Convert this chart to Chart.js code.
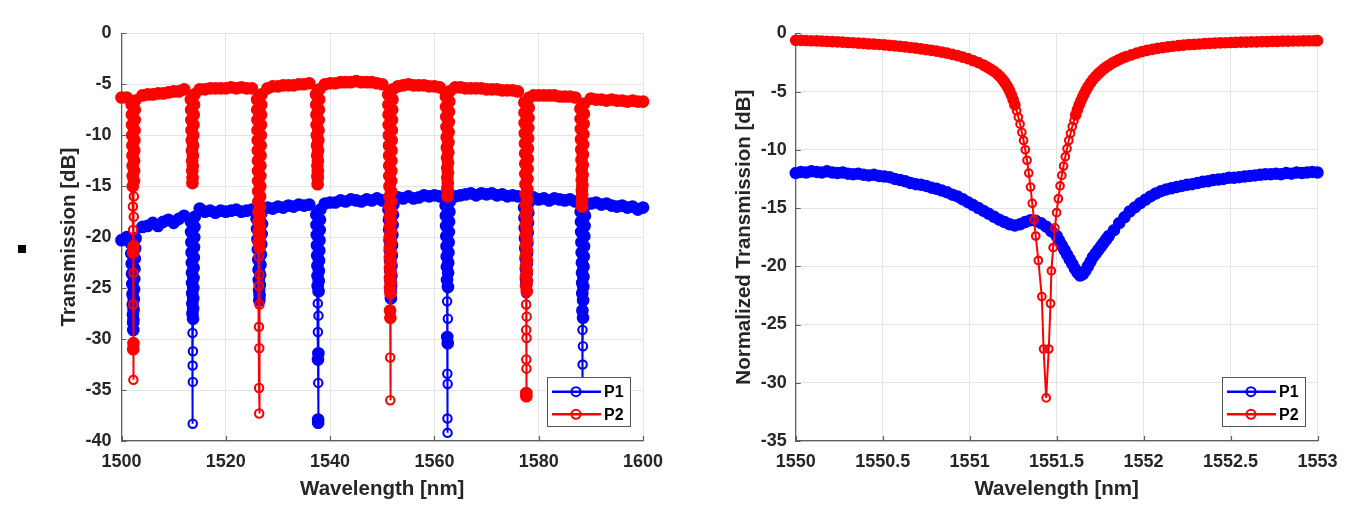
<!DOCTYPE html>
<html><head><meta charset="utf-8">
<script src="https://cdn.jsdelivr.net/npm/chart.js@4.4.1/dist/chart.umd.min.js"></script>
<style>
html,body{margin:0;padding:0;background:#fff;width:1366px;height:508px;overflow:hidden}
.panel{position:absolute;top:0;width:683px;height:508px}
#mark{position:absolute;left:18px;top:245px;width:8px;height:8px;background:#000}
</style></head><body>
<div class="panel" style="left:0"><canvas id="left" width="683" height="508"></canvas></div>
<div class="panel" style="left:683px"><canvas id="right" width="683" height="508"></canvas></div>
<div id="mark"></div>
<script>
// ---------- LEFT PANEL: broadband spectrum ----------
const leftGrid = [1500,1501,1502,1503,1504,1505,1506,1507,1508,1509,
 1510,1511,1512,1513,1514,1515,1516,1517,1518,1519,
 1520,1521,1522,1523,1524,1525,1526,1527,1528,1529,
 1530,1531,1532,1533,1534,1535,1536,1537,1538,1539,
 1540,1541,1542,1543,1544,1545,1546,1547,1548,1549,
 1550,1551,1552,1553,1554,1555,1556,1557,1558,1559,
 1560,1561,1562,1563,1564,1565,1566,1567,1568,1569,
 1570,1571,1572,1573,1574,1575,1576,1577,1578,1579,
 1580,1581,1582,1583,1584,1585,1586,1587,1588,1589,
 1590,1591,1592,1593,1594,1595,1596,1597,1598,1599,
 1600];
const leftP1Base = [-20.3,-20.0,-19.8,-19.5,-19.0,-18.9,-18.6,-18.9,-18.5,-18.3,
 -18.6,-18.2,-17.9,-17.7,-17.3,-17.2,-17.5,-17.4,-17.6,-17.4,
 -17.5,-17.4,-17.3,-17.5,-17.4,-17.3,-17.3,-17.2,-17.1,-17.2,
 -17.0,-17.1,-16.9,-17.0,-16.8,-16.9,-16.8,-16.7,-16.8,-16.7,
 -16.6,-16.6,-16.4,-16.5,-16.3,-16.4,-16.5,-16.3,-16.4,-16.2,
 -16.4,-16.3,-16.3,-16.1,-16.2,-16.0,-16.2,-16.1,-15.9,-16.0,
 -15.9,-16.0,-15.9,-15.8,-16.0,-15.9,-15.8,-15.7,-15.9,-15.7,
 -15.8,-15.7,-15.9,-15.8,-16.0,-15.9,-16.0,-16.1,-16.2,-16.1,
 -16.3,-16.2,-16.4,-16.2,-16.3,-16.4,-16.3,-16.5,-16.5,-16.6,
 -16.7,-16.6,-16.8,-16.7,-16.9,-17.0,-16.9,-17.1,-17.0,-17.3,
 -17.1];
const leftP2Base = [-6.3,-6.3,-6.2,-6.2,-6.1,-6.0,-6.0,-5.9,-5.9,-5.8,
 -5.7,-5.7,-5.5,-5.5,-5.6,-5.5,-5.5,-5.4,-5.4,-5.4,
 -5.4,-5.3,-5.4,-5.3,-5.4,-5.4,-5.5,-5.6,-5.4,-5.2,
 -5.2,-5.1,-5.1,-5.1,-5.0,-5.0,-4.9,-5.0,-5.1,-5.0,
 -4.9,-4.9,-4.8,-4.8,-4.8,-4.7,-4.8,-4.8,-4.8,-4.9,
 -5.0,-5.1,-5.5,-5.2,-5.1,-5.0,-5.1,-5.1,-5.1,-5.2,
 -5.2,-5.3,-5.3,-5.4,-5.3,-5.3,-5.4,-5.4,-5.4,-5.4,
 -5.5,-5.5,-5.5,-5.6,-5.6,-5.6,-5.7,-5.8,-6.0,-6.1,
 -6.1,-6.1,-6.1,-6.1,-6.2,-6.2,-6.2,-6.3,-6.4,-6.4,
 -6.4,-6.5,-6.5,-6.6,-6.5,-6.6,-6.6,-6.7,-6.6,-6.7,
 -6.7];
// resonance dips of P1 (blue): sample points
const leftP1DipX = [
 1501.8,1501.88,1501.95,1502.01,1502.07,1502.12,1502.16,1502.2,1502.23,1502.26,1502.29,1502.32,1502.36,1502.4,1502.44,1502.49,1502.55,1502.62,1502.7,
 1513.3,1513.35,1513.4,1513.44,1513.48,1513.51,1513.54,1513.56,1513.58,1513.6,1513.62,1513.64,1513.66,1513.68,1513.7,1513.72,1513.74,1513.76,1513.78,1513.81,1513.84,1513.87,1513.9,1513.94,1513.99,1514.05,
 1525.9,1526.0,1526.08,1526.15,1526.22,1526.28,1526.33,1526.38,1526.43,1526.48,1526.53,1526.59,1526.65,1526.72,1526.79,1526.86,1526.93,1527.0,
 1537.35,1537.4,1537.45,1537.49,1537.53,1537.56,1537.59,1537.62,1537.64,1537.66,1537.68,1537.7,1537.71,1537.73,1537.75,1537.77,1537.79,1537.82,1537.85,1537.88,1537.92,1537.96,1538.0,1538.05,1538.12,
 1551.2,1551.28,1551.34,1551.4,1551.45,1551.5,1551.54,1551.58,1551.62,1551.66,1551.7,1551.74,1551.78,1551.83,1551.88,1551.93,1551.99,1552.06,1552.14,
 1562.15,1562.2,1562.25,1562.29,1562.33,1562.36,1562.39,1562.42,1562.44,1562.46,1562.48,1562.5,1562.52,1562.54,1562.56,1562.58,1562.6,1562.63,1562.66,1562.69,1562.73,1562.77,1562.82,1562.88,1562.95,
 1577.2,1577.27,1577.33,1577.38,1577.43,1577.48,1577.52,1577.56,1577.6,1577.64,1577.68,1577.72,1577.77,1577.82,1577.88,1577.94,1578.01,1578.09,
 1588.05,1588.1,1588.15,1588.2,1588.24,1588.28,1588.31,1588.34,1588.36,1588.38,1588.4,1588.42,1588.44,1588.46,1588.48,1588.5,1588.52,1588.55,1588.58,1588.61,1588.65,1588.69,1588.74,1588.8,1588.87,1588.95];
const leftP1DipY = [
 -20.6,-21.6,-22.6,-23.6,-24.6,-25.6,-26.6,-27.6,-28.4,-29.1,-28.1,-27.1,-26.1,-25.1,-24.1,-23.1,-22.1,-21.1,-20.1,
 -18.5,-19.5,-20.5,-21.5,-22.5,-23.5,-24.5,-25.5,-26.5,-27.5,-29.4,-32.6,-38.3,-34.2,-31.2,-28.0,-27.0,-26.0,-25.0,-24.0,-23.0,-22.0,-21.0,-20.0,-19.0,-18.0,
 -18.2,-19.2,-20.2,-21.2,-22.2,-23.2,-24.2,-25.2,-26.2,-25.7,-24.7,-23.7,-22.7,-21.7,-20.7,-19.7,-18.7,-17.7,
 -17.8,-18.8,-19.8,-20.8,-21.8,-22.8,-23.8,-24.8,-26.5,-29.3,-32.0,-37.9,-38.2,-34.3,-31.4,-27.7,-25.3,-24.3,-23.3,-22.3,-21.3,-20.3,-19.3,-18.3,-17.3,
 -17.3,-18.3,-19.3,-20.3,-21.3,-22.3,-23.3,-24.3,-25.3,-26.0,-24.8,-23.8,-22.8,-21.8,-20.8,-19.8,-18.8,-17.8,-16.8,
 -16.9,-17.9,-18.9,-19.9,-20.9,-21.9,-22.9,-24.2,-26.3,-29.8,-33.4,-37.8,-39.2,-34.4,-30.4,-28.0,-24.9,-23.5,-22.5,-21.5,-20.5,-19.5,-18.5,-17.5,-16.5,
 -17.1,-18.1,-19.1,-20.1,-21.1,-22.1,-23.1,-24.1,-25.5,-24.6,-23.6,-22.6,-21.6,-20.6,-19.6,-18.6,-17.6,-16.6,
 -17.5,-18.5,-19.5,-20.5,-21.5,-22.5,-23.5,-24.5,-25.5,-27.2,-29.1,-32.5,-36.0,-34.5,-30.7,-27.9,-26.2,-24.9,-23.9,-22.9,-21.9,-20.9,-19.9,-18.9,-17.9,-16.9];
// resonance dips of P2 (red)
const leftP2DipX = [
 1501.95,1501.99,1502.03,1502.06,1502.09,1502.11,1502.13,1502.15,1502.17,1502.19,1502.21,1502.22,1502.24,1502.25,1502.27,1502.29,1502.31,1502.33,1502.35,1502.37,1502.39,1502.41,1502.43,1502.45,1502.47,1502.5,1502.53,1502.56,1502.6,
 1513.3,1513.35,1513.4,1513.44,1513.48,1513.51,1513.54,1513.57,1513.6,1513.63,1513.66,1513.69,1513.72,1513.76,1513.8,1513.85,1513.91,1514.0,
 1526.0,1526.03,1526.06,1526.09,1526.12,1526.14,1526.16,1526.18,1526.2,1526.22,1526.24,1526.26,1526.28,1526.3,1526.31,1526.32,1526.34,1526.36,1526.38,1526.4,1526.42,1526.44,1526.46,1526.48,1526.5,1526.52,1526.54,1526.56,1526.58,1526.6,1526.62,1526.64,1526.66,1526.68,1526.7,1526.73,1526.76,1526.8,1526.86,
 1537.3,1537.34,1537.38,1537.42,1537.46,1537.49,1537.52,1537.55,1537.58,1537.61,1537.63,1537.65,1537.67,1537.7,1537.73,1537.77,1537.81,1537.85,1537.9,1537.96,
 1551.15,1551.18,1551.21,1551.24,1551.27,1551.3,1551.32,1551.34,1551.36,1551.38,1551.4,1551.41,1551.42,1551.43,1551.44,1551.45,1551.46,1551.47,1551.48,1551.49,1551.5,1551.52,1551.54,1551.56,1551.58,1551.6,1551.61,1551.62,1551.63,1551.64,1551.65,1551.66,1551.67,1551.68,1551.7,1551.72,1551.74,1551.76,1551.78,1551.8,1551.83,1551.86,1551.9,1551.95,1552.02,
 1562.2,1562.24,1562.28,1562.32,1562.36,1562.39,1562.42,1562.45,1562.47,1562.49,1562.52,1562.55,1562.57,1562.6,1562.63,1562.66,1562.69,1562.72,1562.76,1562.8,1562.85,1562.91,
 1577.25,1577.28,1577.31,1577.34,1577.37,1577.4,1577.42,1577.44,1577.46,1577.48,1577.5,1577.51,1577.52,1577.53,1577.54,1577.55,1577.56,1577.57,1577.58,1577.59,1577.6,1577.61,1577.62,1577.63,1577.65,1577.67,1577.69,1577.71,1577.72,1577.73,1577.74,1577.75,1577.76,1577.77,1577.78,1577.8,1577.82,1577.84,1577.86,1577.88,1577.91,1577.94,1577.97,1578.0,1578.04,1578.09,1578.16,
 1588.0,1588.04,1588.08,1588.12,1588.16,1588.2,1588.23,1588.26,1588.28,1588.3,1588.32,1588.35,1588.38,1588.41,1588.44,1588.48,1588.52,1588.56,1588.61,1588.67,1588.74];
const leftP2DipY = [
 -7.0,-8.0,-9.0,-10.0,-11.0,-12.0,-13.0,-14.0,-15.0,-17.0,-19.3,-21.5,-26.6,-31.0,-34.0,-30.4,-23.5,-20.9,-18.0,-16.0,-14.5,-13.5,-12.5,-11.5,-10.5,-9.5,-8.5,-7.5,-6.6,
 -6.5,-7.5,-8.5,-9.5,-10.5,-11.5,-12.5,-13.5,-14.7,-14.2,-13.0,-12.0,-11.0,-10.0,-9.0,-8.0,-7.0,-6.0,
 -6.5,-7.5,-8.5,-9.5,-10.5,-11.5,-12.5,-13.5,-14.5,-15.5,-16.5,-17.5,-18.5,-19.5,-20.5,-21.9,-24.8,-28.8,-34.8,-37.3,-30.9,-26.6,-23.7,-21.0,-20.0,-19.0,-18.0,-17.0,-16.0,-15.0,-14.0,-13.0,-12.0,-11.0,-10.0,-9.0,-8.0,-7.0,-6.0,
 -6.0,-7.0,-8.0,-9.0,-10.0,-11.0,-12.0,-13.0,-14.0,-14.8,-14.2,-13.5,-12.5,-11.5,-10.5,-9.5,-8.5,-7.5,-6.5,-5.5,
 -6.0,-7.0,-8.0,-9.0,-10.0,-11.0,-12.0,-13.0,-14.0,-15.0,-16.0,-17.0,-18.0,-19.0,-20.0,-21.0,-22.0,-23.0,-24.0,-25.0,-27.2,-31.8,-36.0,-27.9,-25.5,-24.5,-23.5,-22.5,-21.5,-20.5,-19.5,-18.5,-17.5,-16.5,-15.5,-14.5,-13.5,-12.5,-11.5,-10.5,-9.5,-8.5,-7.5,-6.5,-5.5,
 -6.2,-7.2,-8.2,-9.2,-10.2,-11.2,-12.2,-13.2,-14.2,-15.2,-16.0,-15.4,-14.7,-13.7,-12.7,-11.7,-10.7,-9.7,-8.7,-7.7,-6.7,-5.7,
 -6.8,-7.8,-8.8,-9.8,-10.8,-11.8,-12.8,-13.8,-14.8,-15.8,-16.8,-17.8,-18.8,-19.8,-20.8,-21.8,-22.8,-23.8,-24.8,-26.6,-29.1,-32.0,-35.3,-35.6,-32.9,-29.9,-27.8,-25.3,-24.3,-23.3,-22.3,-21.3,-20.3,-19.3,-18.3,-17.3,-16.3,-15.3,-14.3,-13.3,-12.3,-11.3,-10.3,-9.3,-8.3,-7.3,-6.3,
 -7.4,-8.4,-9.4,-10.4,-11.4,-12.4,-13.4,-14.4,-15.4,-16.4,-17.0,-15.9,-14.9,-13.9,-12.9,-11.9,-10.9,-9.9,-8.9,-7.9,-6.9];
const leftXTicks = [1500,1520,1540,1560,1580,1600];
const leftYTicks = [-40,-35,-30,-25,-20,-15,-10,-5,0];

// ---------- RIGHT PANEL: zoom on one resonance ----------
const narrowP1X = [1550.00,1550.03,1550.06,1550.09,1550.12,1550.15,1550.18,1550.21,1550.24,1550.27,
 1550.30,1550.33,1550.36,1550.39,1550.42,1550.45,1550.48,1550.51,1550.54,1550.57,
 1550.60,1550.63,1550.66,1550.69,1550.72,1550.75,1550.78,1550.81,1550.84,1550.87,
 1550.90,1550.93,1550.96,1550.99,1551.02,1551.05,1551.08,1551.11,1551.14,1551.17,
 1551.20,1551.23,1551.26,1551.29,1551.32,1551.35,1551.38,1551.41,1551.44,1551.47,
 1551.50,
 1551.515,1551.53,1551.545,1551.56,1551.575,1551.59,1551.605,1551.62,1551.635,1551.65,
 1551.665,1551.68,1551.695,1551.71,1551.725,1551.74,1551.755,1551.77,1551.785,1551.80,
 1551.83,1551.86,1551.89,1551.92,1551.95,1551.98,1552.01,1552.04,1552.07,1552.10,
 1552.13,1552.16,1552.19,1552.22,1552.25,1552.28,1552.31,1552.34,1552.37,1552.40,
 1552.43,1552.46,1552.49,1552.52,1552.55,1552.58,1552.61,1552.64,1552.67,1552.70,
 1552.73,1552.76,1552.79,1552.82,1552.85,1552.88,1552.91,1552.94,1552.97,1553.00];
const narrowP1Y = [-12.0,-11.9,-11.95,-11.85,-11.9,-11.95,-11.85,-11.95,-12.0,-11.95,
 -12.05,-12.1,-12.05,-12.15,-12.2,-12.15,-12.25,-12.3,-12.35,-12.5,
 -12.6,-12.7,-12.85,-12.95,-13.0,-13.1,-13.25,-13.35,-13.5,-13.65,
 -13.85,-14.0,-14.25,-14.5,-14.75,-15.0,-15.25,-15.5,-15.75,-16.0,
 -16.2,-16.4,-16.5,-16.4,-16.2,-16.05,-16.1,-16.3,-16.6,-17.0,
 -17.4,
 -17.8,-18.2,-18.6,-19.0,-19.4,-19.8,-20.2,-20.55,-20.8,-20.7,
 -20.4,-20.0,-19.6,-19.2,-18.9,-18.6,-18.3,-18.0,-17.7,-17.4,
 -16.9,-16.3,-15.8,-15.3,-14.95,-14.6,-14.3,-14.0,-13.75,-13.55,
 -13.4,-13.3,-13.2,-13.1,-13.0,-12.95,-12.85,-12.75,-12.7,-12.6,
 -12.55,-12.5,-12.4,-12.4,-12.35,-12.3,-12.25,-12.2,-12.15,-12.1,
 -12.1,-12.05,-12.1,-12.0,-12.05,-11.95,-12.0,-11.95,-11.9,-11.95];
const narrowP2X = [1550.00,1550.03,1550.06,1550.09,1550.12,1550.15,1550.18,1550.21,1550.24,1550.27,
 1550.30,1550.33,1550.36,1550.39,1550.42,1550.45,1550.48,1550.51,1550.54,1550.57,
 1550.60,1550.63,1550.66,1550.69,1550.72,1550.75,1550.78,1550.81,1550.84,1550.87,
 1550.90,1550.93,1550.96,1550.99,1551.02,1551.05,1551.08,
 1551.10,1551.12,1551.14,1551.16,1551.175,1551.19,1551.20,1551.21,1551.22,1551.23,
 1551.24,1551.25,1551.26,1551.27,1551.28,1551.29,1551.30,1551.31,1551.32,1551.33,1551.34,1551.35,1551.36,1551.37,1551.38,1551.395,1551.415,1551.425,1551.44,1551.455,1551.465,1551.47,1551.48,
 1551.49,1551.50,1551.51,1551.52,1551.53,1551.54,1551.55,1551.56,1551.57,1551.58,1551.59,1551.60,
 1551.61,1551.62,1551.63,1551.64,1551.65,1551.66,1551.67,1551.68,1551.695,1551.71,1551.725,1551.74,1551.755,1551.77,1551.785,1551.80,
 1551.82,1551.84,1551.86,1551.88,1551.90,
 1551.93,1551.96,1551.99,1552.02,1552.05,1552.08,1552.11,1552.14,1552.17,1552.20,
 1552.23,1552.26,1552.29,1552.32,1552.35,1552.38,1552.41,1552.44,1552.47,1552.50,
 1552.53,1552.56,1552.59,1552.62,1552.65,1552.68,1552.71,1552.74,1552.77,1552.80,
 1552.83,1552.86,1552.89,1552.92,1552.95,1552.98,1553.00];
const narrowP2Y = [-0.60,-0.61,-0.62,-0.64,-0.65,-0.67,-0.69,-0.71,-0.73,-0.76,
 -0.79,-0.81,-0.84,-0.87,-0.90,-0.93,-0.96,-1.00,-1.04,-1.08,
 -1.12,-1.17,-1.22,-1.28,-1.34,-1.40,-1.46,-1.53,-1.62,-1.71,
 -1.81,-1.92,-2.04,-2.18,-2.34,-2.52,-2.74,
 -2.90,-3.07,-3.26,-3.50,-3.72,-3.98,-4.18,-4.40,-4.65,-4.95,
 -5.3,-5.7,-6.15,-6.65,-7.2,-7.8,-8.5,-9.2,-10.0,-10.9,-12.0,-13.2,-14.6,-16.0,-17.4,-19.5,-22.6,-27.1,-31.3,-27.1,-23.2,-20.4,-18.4,
 -16.7,-15.4,-14.2,-13.1,-12.2,-11.4,-10.6,-9.9,-9.2,-8.6,-8.0,-7.5,
 -7.0,-6.55,-6.15,-5.8,-5.45,-5.15,-4.85,-4.6,-4.25,-3.95,-3.7,-3.47,-3.26,-3.07,-2.9,-2.75,
 -2.56,-2.4,-2.25,-2.11,-2.0,
 -1.85,-1.7,-1.58,-1.47,-1.38,-1.3,-1.23,-1.17,-1.11,-1.06,
 -1.02,-0.98,-0.95,-0.92,-0.89,-0.87,-0.85,-0.83,-0.81,-0.79,
 -0.78,-0.76,-0.75,-0.74,-0.73,-0.72,-0.71,-0.70,-0.69,-0.68,
 -0.67,-0.66,-0.66,-0.65,-0.64,-0.64,-0.63];
const rightXTicks = [1550,1550.5,1551,1551.5,1552,1552.5,1553];
const rightYTicks = [-35,-30,-25,-20,-15,-10,-5,0];

const seriesNames = ['P1','P2'];

// ---------- helpers ----------
const FONT = '"Liberation Sans", Arial, Helvetica, sans-serif';
const INK = '#262626', AXIS = '#5e5e5e', GRID = '#e4e4e4';
const BLUE = '#0000ff', RED = '#ff0000';

function mergeSpectrum(gridX, baseY, dipX, dipY) {
  const pts = [];
  gridX.forEach((x, i) => { if (!dipX.some(d => Math.abs(d - x) < 0.6)) pts.push({x, y: baseY[i]}); });
  dipX.forEach((x, i) => pts.push({x, y: dipY[i]}));
  pts.sort((a, b) => a.x - b.x);
  return pts;
}
const zip = (xs, ys) => xs.map((x, i) => ({x, y: ys[i]}));

// pixel distance from a point to its closest neighbour (for marker look only)
function nearestGap(ctx, span) {
  const chart = ctx.chart, xs = chart.scales.x, ys = chart.scales.y;
  const data = chart.data.datasets[ctx.datasetIndex].data;
  const i = ctx.dataIndex, p = data[i];
  if (!xs || !ys || !p) return 0;
  const px = xs.getPixelForValue(p.x), py = ys.getPixelForValue(p.y);
  let best = Infinity;
  for (let j = Math.max(0, i - span); j <= Math.min(data.length - 1, i + span); j++) {
    if (j === i) continue;
    const d = Math.hypot(xs.getPixelForValue(data[j].x) - px, ys.getPixelForValue(data[j].y) - py);
    if (d < best) best = d;
  }
  return best;
}

const insideTicks = { id: 'insideTicks', beforeDatasetsDraw(chart) {
  const {ctx, chartArea: a, scales: {x, y}} = chart;
  ctx.save(); ctx.strokeStyle = AXIS; ctx.lineWidth = 1.2; ctx.beginPath();
  x.ticks.forEach(t => { const p = Math.round(x.getPixelForValue(t.value)) + 0.5; ctx.moveTo(p, a.bottom); ctx.lineTo(p, a.bottom - 5); });
  y.ticks.forEach(t => { const p = Math.round(y.getPixelForValue(t.value)) + 0.5; ctx.moveTo(a.left, p); ctx.lineTo(a.left + 5, p); });
  ctx.stroke(); ctx.restore();
}};

const boxLegend = { id: 'boxLegend', afterDraw(chart) {
  const {ctx, chartArea: a} = chart;
  const w = 84, h = 50, x0 = Math.round(a.right - 12 - w), y0 = Math.round(a.bottom - 14 - h);
  ctx.save();
  ctx.fillStyle = '#fff'; ctx.fillRect(x0, y0, w, h);
  ctx.strokeStyle = '#555'; ctx.lineWidth = 1; ctx.strokeRect(x0 + 0.5, y0 + 0.5, w - 1, h - 1);
  chart.data.datasets.forEach((ds, k) => {
    const yy = y0 + 14.7 + k * 22.6;
    ctx.strokeStyle = ds.borderColor; ctx.lineWidth = 2.6;
    ctx.beginPath(); ctx.moveTo(x0 + 5, yy); ctx.lineTo(x0 + 54, yy); ctx.stroke();
    ctx.lineWidth = 2.1; ctx.beginPath(); ctx.arc(x0 + 29, yy, 4.5, 0, Math.PI * 2); ctx.stroke();
    ctx.fillStyle = '#000'; ctx.font = 'bold 16px ' + FONT; ctx.textBaseline = 'middle'; ctx.textAlign = 'left';
    ctx.fillText(ds.label, x0 + 57, yy + 1);
  });
  ctx.restore();
}};

function dataset(label, color, data, order, m) {
  const dense = ctx => nearestGap(ctx, m.span) <= m.gap;
  return { label, data, order, borderColor: color, pointBorderColor: color,
    pointBackgroundColor: ctx => dense(ctx) ? color : 'rgba(255,255,255,0)',
    pointRadius: ctx => dense(ctx) ? m.rDense : m.rRing,
    borderWidth: 2, pointBorderWidth: 2.1, pointHoverRadius: 4.4, tension: 0, clip: false };
}

function makeChart(id, c) {
  const tickFont = { family: FONT, size: 18, weight: 'bold' };
  const titleFont = { family: FONT, size: 20.5, weight: 'bold' };
  return new Chart(document.getElementById(id), {
    type: 'line',
    data: { datasets: [
      dataset(seriesNames[0], BLUE, c.p1, 1, c.m1),
      dataset(seriesNames[1], RED, c.p2, 0, c.m2)
    ]},
    options: {
      responsive: false, animation: false, events: [],
      layout: { padding: { left: 0, top: 33.3, right: c.padRight, bottom: 0 } },
      plugins: { legend: { display: false }, tooltip: { enabled: false } },
      scales: {
        x: { type: 'linear', min: c.xTicks[0], max: c.xTicks[c.xTicks.length - 1],
          afterBuildTicks: s => { s.ticks = c.xTicks.map(v => ({ value: v })); },
          afterFit: s => { s.height = 67; },
          ticks: { callback: v => String(v), font: tickFont, color: INK, padding: 10, maxRotation: 0, autoSkip: false },
          grid: { color: GRID, drawTicks: false },
          border: { color: AXIS, width: 1.3 },
          title: { display: true, text: 'Wavelength [nm]', font: titleFont, color: INK, padding: { top: 0, bottom: 6.5 } } },
        y: { type: 'linear', min: c.yTicks[0], max: c.yTicks[c.yTicks.length - 1],
          afterBuildTicks: s => { s.ticks = c.yTicks.map(v => ({ value: v })); },
          afterFit: s => { s.width = c.yWidth; },
          ticks: { callback: v => String(v), font: tickFont, color: INK, padding: c.yPad, autoSkip: false },
          grid: { color: GRID, drawTicks: false },
          border: { color: AXIS, width: 1.3 },
          title: { display: true, text: c.yTitle, font: titleFont, color: INK, padding: { top: c.yTitlePad, bottom: 0 } } }
      }
    },
    plugins: [insideTicks, boxLegend]
  });
}

makeChart('left', {
  p1: mergeSpectrum(leftGrid, leftP1Base, leftP1DipX, leftP1DipY),
  p2: mergeSpectrum(leftGrid, leftP2Base, leftP2DipX, leftP2DipY),
  xTicks: leftXTicks, yTicks: leftYTicks, padRight: 40, yWidth: 121.5, yPad: 10,
  yTitle: 'Transmission [dB]', yTitlePad: 56.7,
  m1: { span: 80, gap: 7.5, rDense: 5.3, rRing: 4.2 },
  m2: { span: 80, gap: 7.5, rDense: 5.3, rRing: 4.2 }
});
makeChart('right', {
  p1: zip(narrowP1X, narrowP1Y),
  p2: zip(narrowP2X, narrowP2Y),
  xTicks: rightXTicks, yTicks: rightYTicks, padRight: 48.5, yWidth: 112.7, yPad: 9,
  yTitle: 'Normalized Transmission [dB]', yTitlePad: 48.7,
  m1: { span: 1, gap: 10, rDense: 5.2, rRing: 3.8 },
  m2: { span: 1, gap: 6, rDense: 4.8, rRing: 3.8 }
});
</script></body></html>
